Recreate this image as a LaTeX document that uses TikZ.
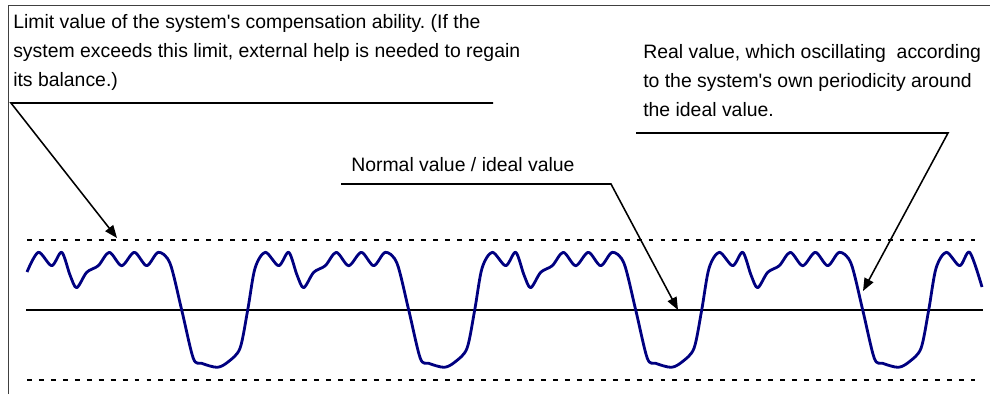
\documentclass[tikz,border=0pt]{standalone}
\usepackage{fontspec}
\setmainfont{Liberation Sans}
\usetikzlibrary{arrows.meta}
\definecolor{wavecol}{RGB}{0,0,128}
\frenchspacing

\begin{document}
\begin{tikzpicture}[x=0.025cm, y=-0.025cm]
\tikzstyle{every node}=[inner sep=0pt, anchor=base west, align=left, font=\fontsize{13.8}{20.6}\selectfont];
\tikzstyle{frame}=[line width=0.7pt, black!75];
\tikzstyle{limit}=[line width=1.6pt, dash pattern=on 3.5pt off 5pt];
\tikzstyle{ideal}=[line width=1.6pt];
\tikzstyle{wave}=[line width=2pt, wavecol, line join=round];
\tikzstyle{pointer}=[line width=1.1pt, -{Triangle[length=9pt, width=7pt]}];

\useasboundingbox (0,0) rectangle (990,394);
\draw[frame] (8,394) -- (8,5.7) -- (990,5.7);

\draw (13,86) node (t1) {Limit value of the system\textquotesingle s compensation ability. (If the\\system exceeds this limit, external help is needed to regain\\its balance.)};
\draw (351,171) node (t2) {Normal value / ideal value};
\draw (643,116) node (t3) {Real value, which oscillating\ \ according\\to the system\textquotesingle s own periodicity around\\the ideal value.};

\coordinate (c1) at (493,103);
\coordinate (c2) at (11,103);
\coordinate (p1) at (117,238);

\coordinate (c3) at (341,184);
\coordinate (c4) at (611,184);
\coordinate (p2) at (678,310);

\coordinate (c5) at (636,133);
\coordinate (c6) at (948,133);
\coordinate (p3) at (863,291);

\draw[limit] (27,240) -- (975,240);
\draw[limit] (27,380) -- (975,380);
\draw[ideal] (26,310) -- (983,310);

\def\wavepts{(27,272)}
\foreach \k in {0,...,3}{
  \foreach \dx/\y in {0/252.3, 13.4/265.7, 23.4/252.3, 31.7/275, 38.4/287.7, 48.4/272.3, 60/265.7, 71/252.3, 83.4/265.7, 96/252.3, 108.4/265.7, 120/252.3, 131.7/263.3, 143.4/310, 155/358.3, 163.4/363.3, 179/367.3, 190/361.7, 201.7/348.3, 209.4/310, 216.7/268.3}{
    \pgfmathsetmacro\xx{38.3+227*\k+\dx}
    \xdef\wavepts{\wavepts (\xx,\y)}
  }
}
\xdef\wavepts{\wavepts (946.3,252.3) (959.7,265.7) (969.7,252.3) (982,287)}
\edef\drawwave{\noexpand\draw[wave] plot[smooth] coordinates {\wavepts};}
\drawwave

\draw[pointer] (c1) -- (c2) -- (p1);
\draw[pointer] (c3) -- (c4) -- (p2);
\draw[pointer] (c5) -- (c6) -- (p3);

\end{tikzpicture}
\end{document}
